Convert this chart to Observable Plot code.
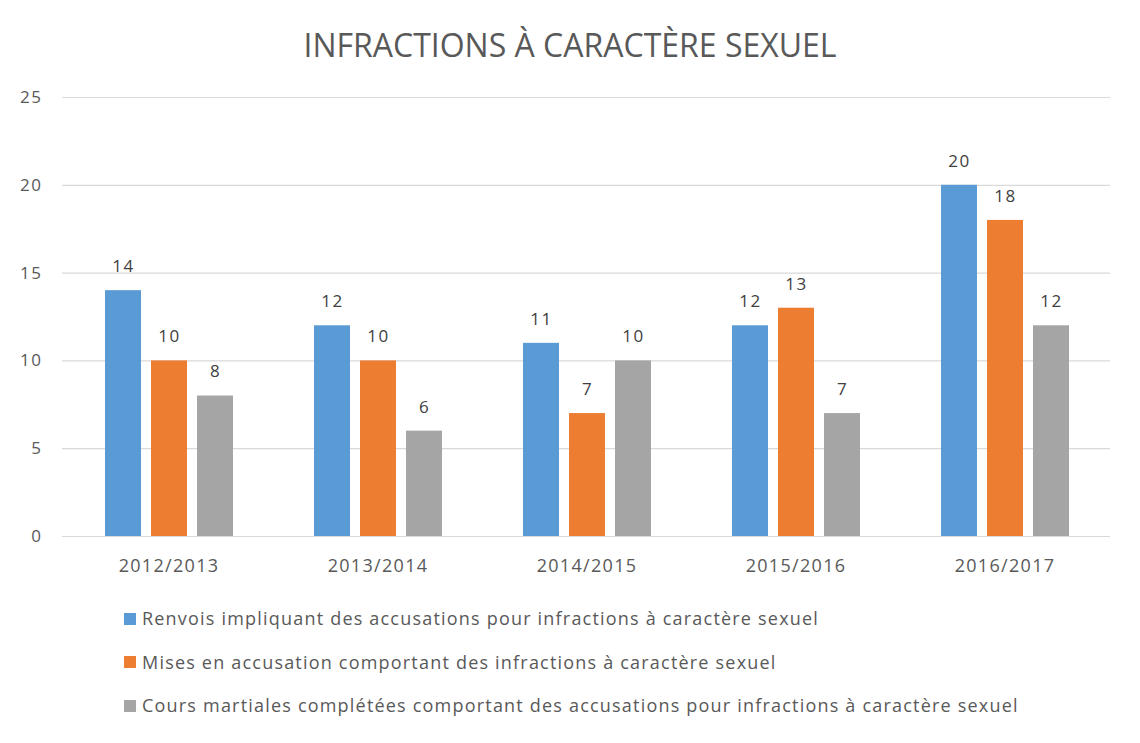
<!DOCTYPE html>
<html>
<head>
<meta charset="utf-8">
<script src="https://cdn.jsdelivr.net/npm/d3@7"></script>
<script src="https://cdn.jsdelivr.net/npm/@observablehq/plot@0.6"></script>
<style>
  body { margin: 0; background: #fff; font-family: "Open Sans", sans-serif; }
  #wrap { width: 1140px; }
  #title { height: 54px; padding-top: 26px; line-height: 38px; text-align: center; font-size: 32px; color: #595959; }
  #chart { position: relative; width: 1140px; height: 510px; }
  #chart svg { position: absolute; left: 0; top: 0; display: block; }
  #legend { padding-top: 7px; padding-left: 124px; }
  .row { height: 43.5px; line-height: 43.5px; font-size: 18px; letter-spacing: 1.2px; color: #595959; display: flex; align-items: center; white-space: nowrap; }
  .sw { width: 12px; height: 12px; margin-right: 6px; flex: none; }
  .ytick text { letter-spacing: 1.5px; }
  .fxtick text { letter-spacing: 1.3px; }
  .vals text { letter-spacing: 1.5px; }
</style>
</head>
<body>
<div id="wrap">
  <div id="title">INFRACTIONS À CARACTÈRE SEXUEL</div>
  <div id="chart"></div>
  <div id="legend"></div>
</div>
<script>
const categories = ["2012/2013", "2013/2014", "2014/2015", "2015/2016", "2016/2017"];
const series = [
  "Renvois impliquant des accusations pour infractions à caractère sexuel",
  "Mises en accusation comportant des infractions à caractère sexuel",
  "Cours martiales complétées comportant des accusations pour infractions à caractère sexuel"
];
const renvois = [14, 12, 11, 12, 20];
const mises = [10, 10, 7, 13, 18];
const cours = [8, 6, 10, 7, 12];
const colors = ["#5B9BD5", "#ED7D31", "#A5A5A5"];
const yTicks = [0, 5, 10, 15, 20, 25];

const seriesValues = [renvois, mises, cours];
const data = categories.flatMap((c, i) =>
  series.map((s, j) => ({category: c, series: s, value: seriesValues[j][i]}))
);

const frame = {
  width: 1140,
  height: 510,
  marginLeft: 62,
  marginRight: 30,
  marginTop: 17,
  marginBottom: 54
};

// Background: gridlines and y axis across the whole plot area
const back = Plot.plot({
  ...frame,
  style: {fontFamily: "Open Sans, sans-serif", color: "#595959", background: "#fff"},
  x: {domain: [0, 1], axis: null},
  y: {domain: [0, 25], label: null},
  marks: [
    Plot.ruleY(yTicks, {stroke: "#d9d9d9", strokeWidth: 1.2}),
    Plot.axisY(yTicks, {tickSize: 0, tickPadding: 20, fontSize: 17, label: null, fill: "#595959", className: "ytick"})
  ]
});

// Foreground: grouped bars
const front = Plot.plot({
  ...frame,
  style: {fontFamily: "Open Sans, sans-serif", color: "#595959", background: "transparent"},
  fx: {domain: categories, paddingInner: 0.385, paddingOuter: 0.1925, label: null, axis: null},
  x: {domain: series, axis: null, paddingInner: 0.226, paddingOuter: 0},
  y: {domain: [0, 25], axis: null},
  color: {domain: series, range: colors},
  marks: [
    Plot.axisFx({anchor: "bottom", tickSize: 0, tickPadding: 23, fontSize: 18, label: null, fill: "#595959", className: "fxtick"}),
    Plot.barY(data, {fx: "category", x: "series", y: "value", fill: "series"}),
    Plot.text(data, {fx: "category", x: "series", y: "value", text: d => String(d.value), dy: -24, fontSize: 17, fill: "#404040", className: "vals"})
  ]
});
const chartDiv = document.getElementById("chart");
chartDiv.appendChild(back);
chartDiv.appendChild(front);

const legend = document.getElementById("legend");
series.forEach((s, i) => {
  const row = document.createElement("div");
  row.className = "row";
  const sw = document.createElement("span");
  sw.className = "sw";
  sw.style.background = colors[i];
  const t = document.createElement("span");
  t.textContent = s;
  row.appendChild(sw);
  row.appendChild(t);
  legend.appendChild(row);
});
</script>
</body>
</html>
